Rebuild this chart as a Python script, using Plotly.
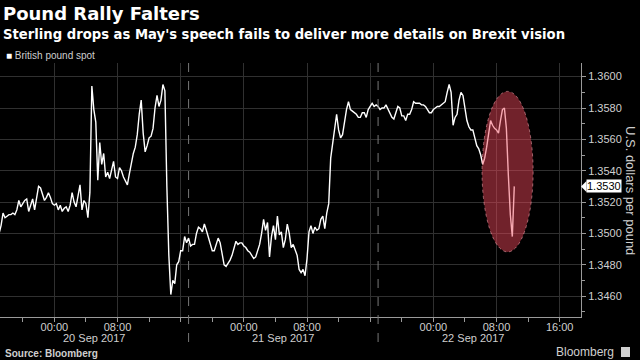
import pandas as pd
import plotly.graph_objects as go

# ---------------- data ----------------
series_name = "British pound spot"
start_time = "2017-09-19 17:00"
step = "15min"
gbp_usd = [
    1.3500, 1.3505, 1.3513, 1.3510, 1.3511, 1.3512, 1.3512, 1.3513, 1.3512, 1.3515,
    1.3521, 1.3517, 1.3519, 1.3521, 1.3522, 1.3514, 1.3518, 1.3522, 1.3515, 1.3523,
    1.3530, 1.3529, 1.3525, 1.3521, 1.3523, 1.3526, 1.3523, 1.3519, 1.3518, 1.3519,
    1.3515, 1.3518, 1.3514, 1.3516, 1.3517, 1.3514, 1.3518, 1.3526, 1.3520, 1.3517,
    1.3524, 1.3531, 1.3515, 1.3521, 1.3519, 1.3510, 1.3526, 1.3594, 1.3579, 1.3571,
    1.3534, 1.3558, 1.3544, 1.3551, 1.3536, 1.3539, 1.3535, 1.3540, 1.3546, 1.3536,
    1.3535, 1.3542, 1.3540, 1.3536, 1.3533, 1.3531, 1.3538, 1.3545, 1.3551, 1.3555,
    1.3563, 1.3576, 1.3585, 1.3564, 1.3552, 1.3556, 1.3561, 1.3562, 1.3567, 1.3580,
    1.3588, 1.3581, 1.3585, 1.3595, 1.3591, 1.3530, 1.3486, 1.3461, 1.3470, 1.3468,
    1.3480, 1.3482, 1.3489, 1.3489, 1.3498, 1.3494, 1.3497, 1.3492, 1.3493, 1.3493,
    1.3500, 1.3504, 1.3503, 1.3501, 1.3506, 1.3502, 1.3498, 1.3493, 1.3489, 1.3489,
    1.3493, 1.3497, 1.3494, 1.3488, 1.3480, 1.3479, 1.3481, 1.3483, 1.3486, 1.3490,
    1.3495, 1.3493, 1.3494, 1.3494, 1.3492, 1.3491, 1.3489, 1.3488, 1.3486, 1.3484,
    1.3485, 1.3489, 1.3493, 1.3500, 1.3509, 1.3502, 1.3507, 1.3485, 1.3498, 1.3505,
    1.3496, 1.3511, 1.3499, 1.3501, 1.3491, 1.3496, 1.3506, 1.3500, 1.3491, 1.3493,
    1.3489, 1.3486, 1.3477, 1.3475, 1.3477, 1.3473, 1.3484, 1.3501, 1.3505, 1.3500,
    1.3504, 1.3502, 1.3503, 1.3509, 1.3511, 1.3503, 1.3513, 1.3519, 1.3548, 1.3558,
    1.3565, 1.3576, 1.3566, 1.3561, 1.3563, 1.3572, 1.3579, 1.3584, 1.3579, 1.3578,
    1.3577, 1.3576, 1.3574, 1.3574, 1.3577, 1.3577, 1.3574, 1.3579, 1.3581, 1.3583,
    1.3581, 1.3582, 1.3581, 1.3579, 1.3580, 1.3580, 1.3582, 1.3579, 1.3577, 1.3574,
    1.3573, 1.3577, 1.3581, 1.3580, 1.3575, 1.3575, 1.3572, 1.3576, 1.3576, 1.3579,
    1.3584, 1.3583, 1.3583, 1.3583, 1.3582, 1.3582, 1.3581, 1.3579, 1.3577, 1.3577,
    1.3579, 1.3580, 1.3581, 1.3581, 1.3582, 1.3583, 1.3584, 1.3590, 1.3595, 1.3590,
    1.3569, 1.3574, 1.3576, 1.3585, 1.3590, 1.3588, 1.3579, 1.3572, 1.3568, 1.3566,
    1.3566, 1.3560, 1.3556, 1.3554, 1.3550, 1.3544, 1.3548, 1.3555, 1.3564, 1.3572,
    1.3569, 1.3567, 1.3566, 1.3564, 1.3572, 1.3579, 1.3580, 1.3567, 1.3537, 1.3512,
    1.3498, 1.3530,
]
days = ["2017-09-20", "2017-09-21", "2017-09-22"]
day_labels = ["20 Sep 2017", "21 Sep 2017", "22 Sep 2017"]
hour_ticks = ["00:00", "08:00", "16:00"]
y_ticks = [1.3460, 1.3480, 1.3500, 1.3520, 1.3540, 1.3560, 1.3580, 1.3600]
session_breaks = ["2017-09-20 17:00", "2017-09-21 17:00"]
highlight_x = ["2017-09-22 06:10", "2017-09-22 12:38"]
highlight_y = [1.34882, 1.35906]

times = pd.date_range(start_time, periods=len(gbp_usd), freq=step)
last_value = gbp_usd[-1]

# ---------------- layout geometry ----------------
W, H = 640, 360
ML, MR, MT, MB = 0, 59, 63, 43
PW, PH = W - ML - MR, H - MT - MB
x_range = ["2017-09-19 17:07", "2017-09-22 18:42"]
y_range = [1.34467, 1.36087]


def px_x(px):
    return (px - ML) / PW


def px_y(py):
    return (H - MB - py) / PH


FONT = "Liberation Sans, Arial, sans-serif"
HEAD = "DejaVu Sans, Verdana, sans-serif"
LABEL = "#cfcfcf"
GRID = "#303030"
AXIS = "#9a9a9a"

tickvals, ticktext = [], []
for i, d in enumerate(days):
    for h in hour_ticks:
        tickvals.append(f"{d} {h}")
        if h == "16:00" and i < len(days) - 1:
            ticktext.append("")
        else:
            ticktext.append(h)

fig = go.Figure()
fig.add_trace(go.Scatter(
    x=times, y=gbp_usd, mode="lines", name=series_name,
    line=dict(color="white", width=1.4), showlegend=False,
))

fig.update_layout(
    width=W, height=H,
    margin=dict(l=ML, r=MR, t=MT, b=MB, pad=0),
    paper_bgcolor="black", plot_bgcolor="black",
    font=dict(family=FONT, color=LABEL, size=11),
    showlegend=False,
)

fig.update_xaxes(
    type="date", range=x_range,
    tickmode="array", tickvals=tickvals, ticktext=ticktext,
    showgrid=True, gridcolor=GRID, gridwidth=1,
    showline=True, linecolor=AXIS, linewidth=1,
    ticks="", tickfont=dict(size=11, color=LABEL),
    minor=dict(dtick=4 * 3600 * 1000, tick0="2017-09-20 00:00",
               ticks="outside", ticklen=4, tickcolor=AXIS, showgrid=False),
    zeroline=False, fixedrange=True,
)

fig.update_yaxes(
    range=y_range, side="right",
    tickmode="array", tickvals=y_ticks, tickformat=".4f",
    showgrid=True, gridcolor=GRID, gridwidth=1,
    showline=True, linecolor=AXIS, linewidth=1,
    ticks="outside", ticklen=4, tickcolor=AXIS,
    tickfont=dict(size=11, color=LABEL),
    minor=dict(dtick=0.001, tick0=1.346, ticks="outside", ticklen=3,
               tickcolor=AXIS, showgrid=False),
    zeroline=False, fixedrange=True,
)

shapes = []
for b in session_breaks:
    shapes.append(dict(type="line", xref="x", yref="paper", x0=b, x1=b,
                       y0=1, y1=px_y(346), line=dict(color="#777777", width=1, dash="dash")))
shapes.append(dict(type="circle", xref="x", yref="y", layer="above",
                   x0=highlight_x[0], x1=highlight_x[1], y0=highlight_y[0], y1=highlight_y[1],
                   fillcolor="rgba(240,72,92,0.47)",
                   line=dict(color="rgba(255,170,180,0.55)", width=1, dash="dot")))
ty = (last_value - y_range[0]) / (y_range[1] - y_range[0])
th = 5.5 / PH
shapes.append(dict(type="path", xref="paper", yref="paper", layer="above",
                   path=f"M {px_x(581)} {ty} L {px_x(586.5)} {ty + th} L {px_x(586.5)} {ty - th} Z",
                   fillcolor="white", line=dict(width=0)))
shapes.append(dict(type="rect", xref="paper", yref="paper",
                   x0=px_x(621), x1=px_x(630), y0=px_y(357), y1=px_y(347),
                   fillcolor="#d0d0d0", line=dict(width=0)))
fig.update_layout(shapes=shapes)

ann = []
ann.append(dict(text="<b>Pound Rally Falters</b>", x=px_x(1), y=px_y(14), xref="paper", yref="paper",
                xanchor="left", yanchor="middle", showarrow=False,
                font=dict(size=18, color="white", family=HEAD)))
ann.append(dict(text="<b>Sterling drops as May's speech fails to deliver more details on Brexit vision</b>",
                x=px_x(1), y=px_y(34), xref="paper", yref="paper",
                xanchor="left", yanchor="middle", showarrow=False,
                font=dict(size=13.2, color="white", family=HEAD)))
ann.append(dict(text='<span style="color:white">■</span> ' + series_name,
                x=px_x(4), y=px_y(55), xref="paper", yref="paper",
                xanchor="left", yanchor="middle", showarrow=False,
                font=dict(size=10, color=LABEL, family=FONT)))
for d, lab in zip(days, day_labels):
    ann.append(dict(text=lab, x=f"{d} 05:00", y=px_y(338), xref="x", yref="paper",
                    xanchor="center", yanchor="middle", showarrow=False,
                    font=dict(size=11, color=LABEL, family=FONT)))
ann.append(dict(text="U.S. dollars per pound", x=px_x(631), y=px_y(190), xref="paper", yref="paper",
                xanchor="center", yanchor="middle", showarrow=False, textangle=90,
                font=dict(size=13, color=LABEL, family=FONT)))
ann.append(dict(text=f"{last_value:.4f}", x=px_x(586), y=ty, xref="paper", yref="paper",
                xanchor="left", yanchor="middle", showarrow=False,
                bgcolor="white", borderpad=0,
                font=dict(size=11, color="black", family=FONT)))
ann.append(dict(text="<b>Source: Bloomberg</b>", x=px_x(3), y=px_y(353), xref="paper", yref="paper",
                xanchor="left", yanchor="middle", showarrow=False,
                font=dict(size=10, color=LABEL, family=FONT)))
ann.append(dict(text="Bloomberg", x=px_x(616), y=px_y(352), xref="paper", yref="paper",
                xanchor="right", yanchor="middle", showarrow=False,
                font=dict(size=12, color=LABEL, family=FONT)))
fig.update_layout(annotations=ann)

fig.write_html("out.html", config={"displayModeBar": False},
               post_script="document.body.style.margin='0';")
